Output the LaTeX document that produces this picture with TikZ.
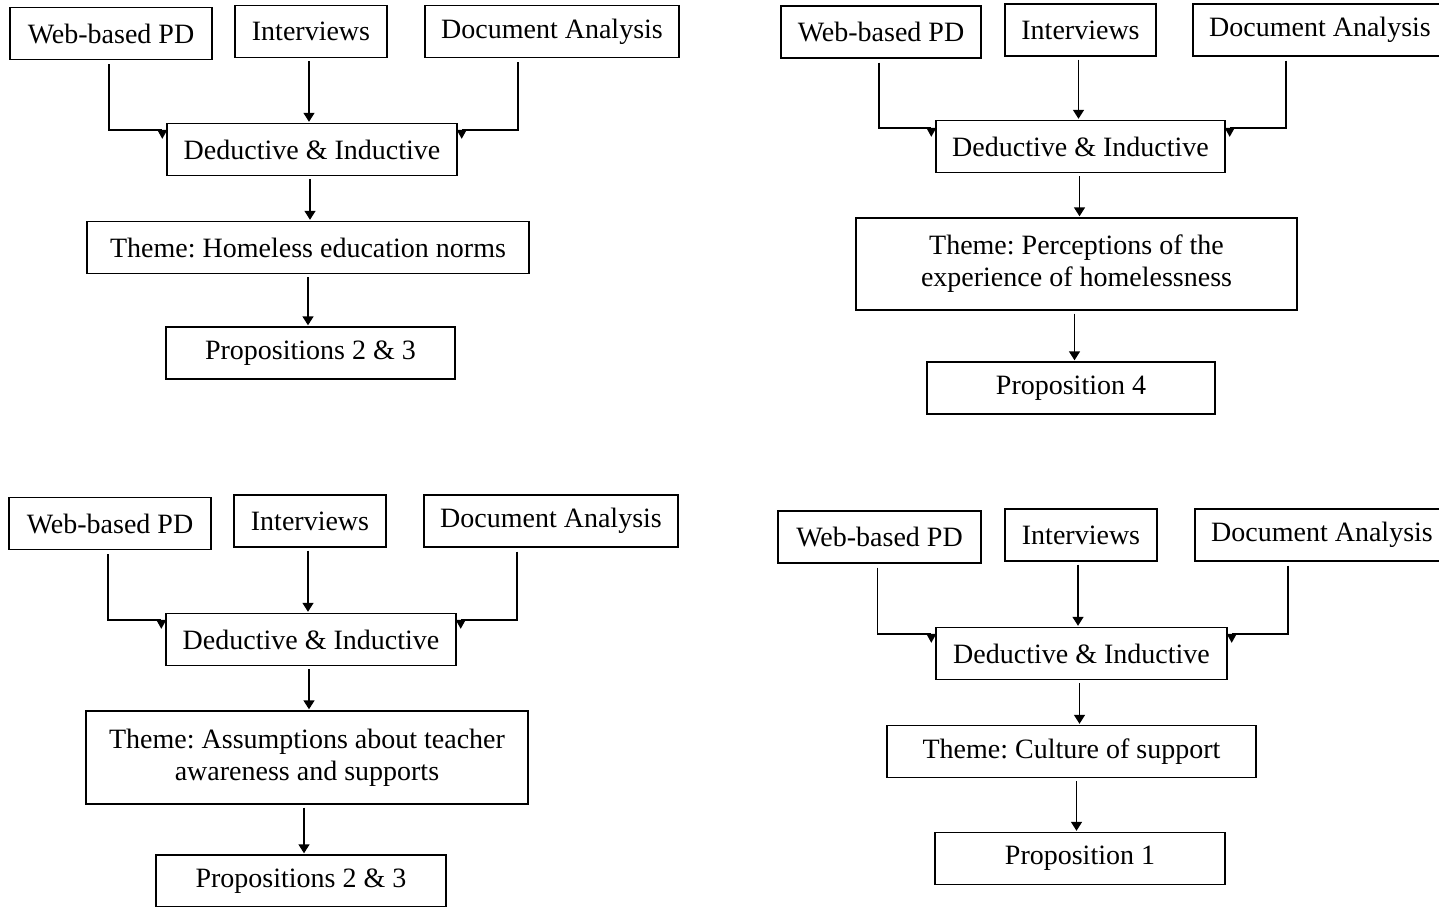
\documentclass[tikz,border=0pt]{standalone}
\usepackage{fontspec}
\setmainfont{Liberation Serif}
\usepackage{tikz}
\usetikzlibrary{arrows.meta}
\frenchspacing
\tikzset{
    %Define style for boxes
    box/.style={
           rectangle,
           draw=black, line width=1.4pt,
           minimum height=52pt,
           inner sep=0pt,
           align=center,
           font=\fontsize{28}{32}\selectfont},
%
    % Define arrow style
    arrow/.style={
           -{Triangle[width=11pt,length=9pt]},
           line width=1.4pt,
           shorten <=3pt,
           shorten >=1pt},
%
    elbow/.style={
           line width=1.4pt,
           shorten <=4pt},
%
    downtip/.pic={
           \fill (-5pt,0) -- (5pt,0) -- (0,-9pt) -- cycle;}
}

\begin{document}
\begin{tikzpicture}[x=1pt, y=-1pt]

  \useasboundingbox[fill=white] (0,0) rectangle (1439,906);

  %% top left
  \node[box, minimum width=202pt] (web1) at (111,33.5) {Web-based PD};
  \node[box, minimum width=152pt] (int1) at (311,31.5) {Interviews};
  \node[box, minimum width=254pt] (doc1) at (552,31.5) {Document Analysis};
  \node[box, minimum width=290pt] (ded1) at (312,149.5) {Deductive \& Inductive};
  \node[box, minimum width=442pt] (theme1) at (308,247.5) {Theme: Homeless education norms};
  \node[box, minimum width=289pt] (prop1) at (310.5,353) {Propositions 2 \& 3};

  \draw[elbow] ([xshift=-2pt]web1.south) |- ([xshift=-4pt,yshift=-7pt]ded1.north west) pic {downtip};
  \draw[elbow] ([xshift=-34pt]doc1.south) |- ([xshift=4pt,yshift=-7pt]ded1.north east) pic {downtip};
  \draw[arrow] ([xshift=-2pt]int1.south) -- ([xshift=-2pt]int1.south |- ded1.north);
  \draw[arrow] ([xshift=-2pt]ded1.south) -- ([xshift=-2pt]ded1.south |- theme1.north);
  \draw[arrow] (theme1.south) -- (theme1.south |- prop1.north);

  %% top right
  \node[box, minimum width=200pt] (web2) at (881,32) {Web-based PD};
  \node[box, minimum width=151pt] (int2) at (1080.5,30) {Interviews};
  \node[box, minimum width=254pt] (doc2) at (1320,30) {Document Analysis};
  \node[box, minimum width=289pt] (ded2) at (1080.5,146.5) {Deductive \& Inductive};
  \node[box, minimum width=441pt, minimum height=92pt] (theme2) at (1076.5,264)
       {Theme: Perceptions of the\\experience of homelessness};
  \node[box, minimum width=288pt] (prop2) at (1071,388) {Proposition 4};

  \draw[elbow] ([xshift=-2pt]web2.south) |- ([xshift=-4pt,yshift=-8pt]ded2.north west) pic {downtip};
  \draw[elbow] ([xshift=-34pt]doc2.south) |- ([xshift=4pt,yshift=-8pt]ded2.north east) pic {downtip};
  \draw[arrow] ([xshift=-2pt]int2.south) -- ([xshift=-2pt]int2.south |- ded2.north);
  \draw[arrow] ([xshift=-1pt]ded2.south) -- ([xshift=-1pt]ded2.south |- theme2.north);
  \draw[arrow] ([xshift=-2pt]theme2.south) -- ([xshift=-2pt]theme2.south |- prop2.north);

  %% bottom left
  \node[box, minimum width=202pt] (web3) at (110,523.5) {Web-based PD};
  \node[box, minimum width=152pt] (int3) at (310,521) {Interviews};
  \node[box, minimum width=254pt] (doc3) at (551,521) {Document Analysis};
  \node[box, minimum width=290pt] (ded3) at (311,639.5) {Deductive \& Inductive};
  \node[box, minimum width=442pt, minimum height=93pt] (theme3) at (307,757.5)
       {Theme: Assumptions about teacher\\awareness and supports};
  \node[box, minimum width=290pt] (prop3) at (301,881) {Propositions 2 \& 3};

  \draw[elbow] ([xshift=-2pt]web3.south) |- ([xshift=-4pt,yshift=-7pt]ded3.north west) pic {downtip};
  \draw[elbow] ([xshift=-34pt]doc3.south) |- ([xshift=4pt,yshift=-7pt]ded3.north east) pic {downtip};
  \draw[arrow] ([xshift=-2pt]int3.south) -- ([xshift=-2pt]int3.south |- ded3.north);
  \draw[arrow] ([xshift=-2pt]ded3.south) -- ([xshift=-2pt]ded3.south |- theme3.north);
  \draw[arrow] ([xshift=-3pt]theme3.south) -- ([xshift=-3pt]theme3.south |- prop3.north);

  %% bottom right
  \node[box, minimum width=203pt] (web4) at (879.5,537) {Web-based PD};
  \node[box, minimum width=152pt] (int4) at (1081,535) {Interviews};
  \node[box, minimum width=254pt] (doc4) at (1322,535) {Document Analysis};
  \node[box, minimum width=291pt] (ded4) at (1081.5,653.5) {Deductive \& Inductive};
  \node[box, minimum width=369pt] (theme4) at (1071.5,751.5) {Theme: Culture of support};
  \node[box, minimum width=290pt] (prop4) at (1080,858.5) {Proposition 1};

  \draw[elbow] ([xshift=-2pt]web4.south) |- ([xshift=-4pt,yshift=-7pt]ded4.north west) pic {downtip};
  \draw[elbow] ([xshift=-34pt]doc4.south) |- ([xshift=4pt,yshift=-7pt]ded4.north east) pic {downtip};
  \draw[arrow] ([xshift=-3pt]int4.south) -- ([xshift=-3pt]int4.south |- ded4.north);
  \draw[arrow] ([xshift=-2pt]ded4.south) -- ([xshift=-2pt]ded4.south |- theme4.north);
  \draw[arrow] ([xshift=5pt]theme4.south) -- ([xshift=5pt]theme4.south |- prop4.north);

\end{tikzpicture}
\end{document}
